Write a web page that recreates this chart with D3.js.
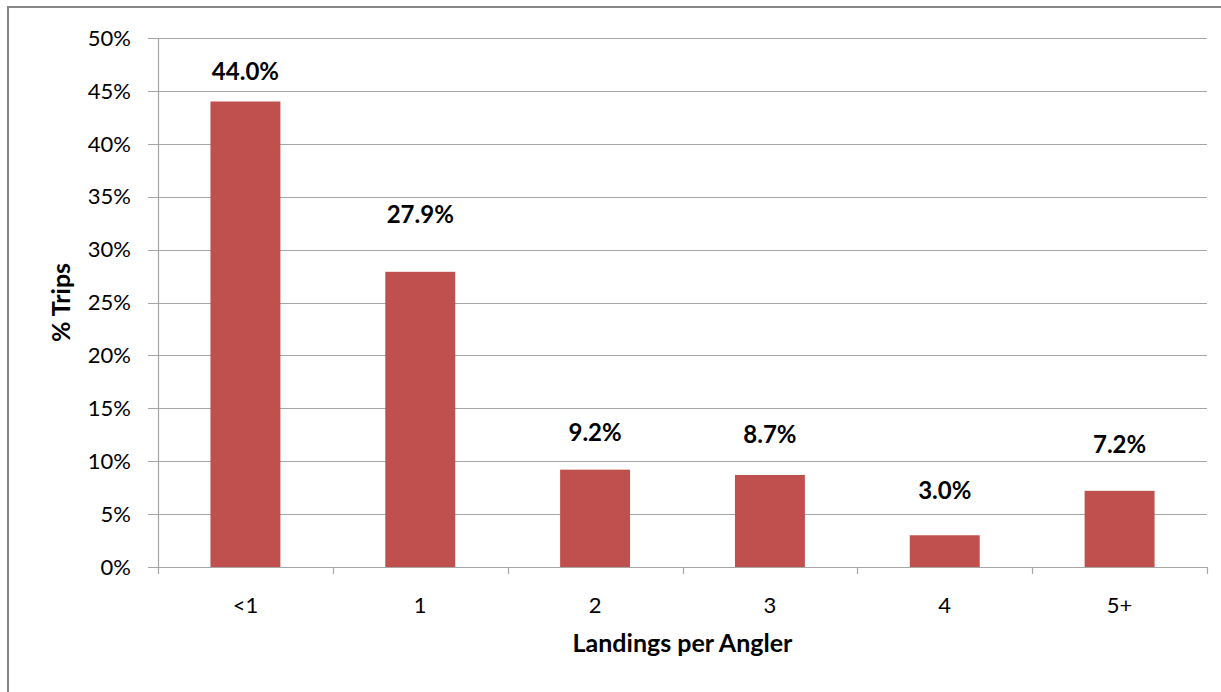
<!DOCTYPE html>
<html><head><meta charset="utf-8">
<script src="https://cdn.jsdelivr.net/npm/d3@7"></script>
<style>
html,body{margin:0;padding:0;background:#fff;}
svg{display:block;}
text{font-family:Lato,"Open Sans","Liberation Sans",sans-serif;fill:#000;}
</style></head>
<body>
<svg id="chart" width="1221" height="692"></svg>
<script>
const categories = ["<1", "1", "2", "3", "4", "5+"];
const values = [44.0, 27.9, 9.2, 8.7, 3.0, 7.2];
const valueLabels = ["44.0%", "27.9%", "9.2%", "8.7%", "3.0%", "7.2%"];
const yTicks = [0, 5, 10, 15, 20, 25, 30, 35, 40, 45, 50];
const xTitle = "Landings per Angler";
const yTitle = "% Trips";

// label placement (in value units) as manually positioned in the original
const labelAt = [46.8, 33.3, 12.7, 12.5, 7.2, 11.6];

const svg = d3.select("#chart");
const W = 1221, H = 692;
const m = {left: 158, right: 14, top: 38, bottom: 125};

svg.append("rect").attr("x", 8).attr("y", 7).attr("width", W + 20).attr("height", H + 20)
  .attr("fill", "#fff").attr("stroke", "#868686").attr("stroke-width", 2);

const x = d3.scaleBand().domain(categories).range([m.left, W - m.right]).padding(0);
const y = d3.scaleLinear().domain([0, 50]).range([H - m.bottom, m.top]);

const g = svg.append("g");
// gridlines
g.selectAll("line.grid").data(yTicks).join("line")
  .attr("x1", m.left - 10).attr("x2", W - m.right)
  .attr("y1", d => Math.round(y(d)) + 0.5).attr("y2", d => Math.round(y(d)) + 0.5)
  .attr("stroke", "#a6a6a6").attr("stroke-width", 1.2);

// y axis line
g.append("line").attr("x1", m.left + 0.5).attr("x2", m.left + 0.5)
  .attr("y1", y(50)).attr("y2", y(0) + 1).attr("stroke", "#a6a6a6").attr("stroke-width", 1.2);

// y tick labels
g.selectAll("text.yt").data(yTicks).join("text")
  .attr("x", m.left - 27).attr("y", d => y(d)).attr("dy", "0.35em")
  .attr("text-anchor", "end").attr("font-size", 22).text(d => d + "%");

// x ticks
const xEdges = categories.map(c => x(c)).concat([x(categories[categories.length - 1]) + x.bandwidth()]);
g.selectAll("line.xt").data(xEdges).join("line")
  .attr("x1", d => Math.round(d) + 0.5).attr("x2", d => Math.round(d) + 0.5)
  .attr("y1", y(0)).attr("y2", y(0) + 7).attr("stroke", "#a6a6a6").attr("stroke-width", 1.2);

// bars
const bw = x.bandwidth() * 0.4;
g.selectAll("rect.bar").data(values).join("rect")
  .attr("x", (d, i) => x(categories[i]) + (x.bandwidth() - bw) / 2)
  .attr("width", bw)
  .attr("y", d => y(d)).attr("height", d => y(0) - y(d))
  .attr("fill", "#c0504d");

// value labels
g.selectAll("text.vl").data(values).join("text")
  .attr("x", (d, i) => x(categories[i]) + x.bandwidth() / 2)
  .attr("y", (d, i) => y(labelAt[i])).attr("dy", "0.35em")
  .attr("text-anchor", "middle").attr("font-size", 24).attr("font-weight", "bold")
  .text((d, i) => valueLabels[i]);

// x tick labels
g.selectAll("text.xl").data(categories).join("text")
  .attr("x", d => x(d) + x.bandwidth() / 2).attr("y", y(0) + 38).attr("dy", "0.35em")
  .attr("text-anchor", "middle").attr("font-size", 22).text(d => d);

// titles
svg.append("text").attr("x", (m.left + W - m.right) / 2).attr("y", 643).attr("dy", "0.35em")
  .attr("text-anchor", "middle").attr("font-size", 25).attr("font-weight", "bold").text(xTitle);
svg.append("text").attr("transform", `translate(61,${(y(0) + y(50)) / 2}) rotate(-90)`)
  .attr("dy", "0.35em").attr("text-anchor", "middle").attr("font-size", 25).attr("font-weight", "bold").text(yTitle);
</script>
</body></html>
